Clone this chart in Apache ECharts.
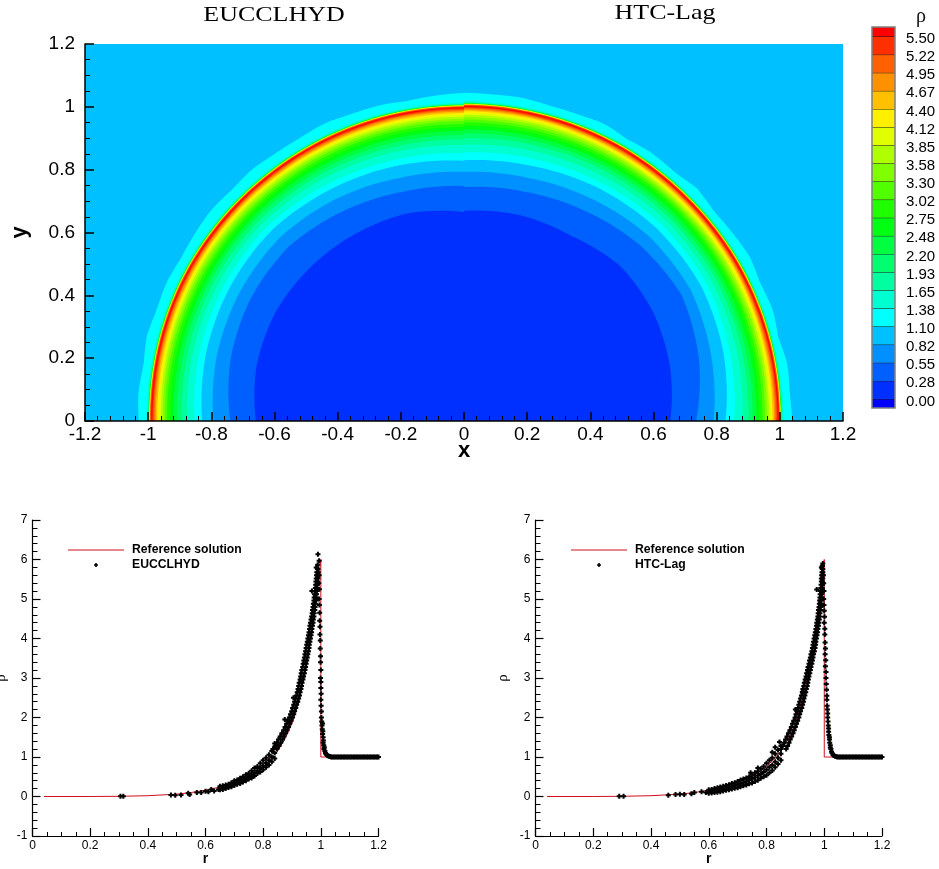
<!DOCTYPE html>
<html>
<head>
<meta charset="utf-8">
<title>rho</title>
<script src="https://cdn.jsdelivr.net/npm/echarts@6/dist/echarts.min.js"></script>
<style>
	html,body{margin:0;padding:0;background:#fff;}
	#chart{width:939px;height:869px;}
</style>
</head>
<body>
<div id="chart"></div>
<script>
// colour legend
var rhoLevels = [0,0.275,0.55,0.825,1.1,1.375,1.65,1.925,2.2,2.475,2.75,3.025,3.3,3.575,3.85,4.125,4.4,4.675,4.95,5.225,5.5];
var rhoLabels = ['0.00','0.28','0.55','0.82','1.10','1.38','1.65','1.93','2.20','2.48','2.75','3.02','3.30','3.58','3.85','4.12','4.40','4.67','4.95','5.22','5.50'];
var bandColors = ['#0000ff','#0030ff','#0060ff','#0090ff','#00c0ff','#00ffff','#00ffd0','#00ffa0','#00ff70','#00ff40','#00ff10',
	'#20ff00','#50ff00','#80ff00','#b0ff00','#e0ff00','#fff000','#ffc000','#ff9000','#ff6000','#ff3000','#ff0000'];

// contour radii on the inner side of the shock, one row per level 0.275..5.5, at 0,15,..,90 degrees from the x axis
var innerLeft = [
	[.659,.680,.690,.690,.688,.685,.665],
	[.740,.765,.780,.785,.770,.755,.748],
	[.793,.810,.820,.825,.815,.800,.793],
	[.829,.845,.855,.860,.850,.840,.828],
	[.853,.866,.874,.878,.869,.860,.853],
	[.876,.886,.893,.896,.890,.884,.878],
	[.893,.902,.908,.910,.906,.900,.896],
	[.907,.915,.920,.922,.918,.914,.910],
	[.920,.926,.930,.932,.930,.926,.924],
	[.930,.936,.940,.941,.940,.937,.935],
	[.940,.945,.948,.950,.949,.947,.945],
	[.947,.952,.956,.957,.957,.955,.954],
	[.954,.959,.963,.964,.964,.962,.962],
	[.960,.965,.969,.970,.970,.969,.969],
	[.966,.970,.974,.975,.975,.975,.975],
	[.971,.975,.979,.980,.980,.980,.980],
	[.976,.980,.983,.984,.984,.985,.985],
	[.980,.984,.987,.988,.988,.989,.989],
	[.984,.987,.990,.990,.991,.992,.992],
	[.987,.990,.993,.993,.994,.995,.995]
];
var innerRight = [
	[.653,.675,.692,.699,.680,.679,.669],
	[.735,.770,.797,.790,.771,.755,.745],
	[.790,.810,.830,.830,.815,.800,.793],
	[.828,.850,.865,.865,.855,.840,.830],
	[.855,.870,.884,.884,.874,.863,.855],
	[.881,.892,.902,.903,.895,.887,.880],
	[.900,.908,.916,.917,.912,.906,.900],
	[.913,.920,.927,.928,.924,.919,.915],
	[.925,.931,.937,.938,.935,.931,.928],
	[.935,.941,.946,.947,.945,.942,.940],
	[.945,.950,.954,.955,.954,.952,.950],
	[.953,.957,.961,.962,.962,.960,.959],
	[.960,.964,.968,.968,.969,.968,.967],
	[.966,.970,.974,.974,.975,.975,.974],
	[.972,.975,.979,.979,.980,.981,.980],
	[.977,.980,.984,.984,.985,.986,.986],
	[.982,.984,.988,.988,.989,.990,.990],
	[.986,.988,.991,.991,.993,.993,.994],
	[.990,.992,.994,.994,.996,.996,.997],
	[.993,.995,.997,.997,.999,.999,1.0]
];
// how far past the 5.5 contour the shock front reaches, levels 1.375..5.5
var outerGap = [.018,.014,.0125,.0115,.011,.0105,.01,.0095,.009,.0085,.008,.0075,.007,.006,.005,.003];
// rough edge of the 1.1 contour ahead of the shock, every 5 degrees
var frontLeft = [1.03,1.035,1.03,1.04,1.035,1.04,1.035,1.04,1.045,1.04,1.045,1.04,1.04,1.045,1.04,1.04,1.034,1.04,1.044];
var frontRight = [1.039,1.035,1.04,1.03,1.04,1.035,1.045,1.04,1.035,1.045,1.035,1.04,1.035,1.045,1.04,1.04,1.045,1.043,1.045];

// reference solution
var refRadius = [.04,.2,.3,.4,.5,.55,.6,.65,.7,.75,.8,.85,.875,.9,.925,.95,.96,.97,.98,.99,1,1,1.2];
var refDensity = [0,0,.005,.02,.06,.1,.16,.24,.35,.5,.75,1.15,1.45,1.85,2.45,3.3,3.75,4.25,4.85,5.45,6,1,1];

// undisturbed gas, rho stays at 1
var flatRadius = [1.045,1.05,1.055,1.06,1.065,1.07,1.075,1.08,1.085,1.09,1.095,1.1,1.105,1.11,1.115,1.12,1.125,1.13,1.135,1.14,1.145,1.15,1.155,1.16,1.165,1.17,1.175,1.18,1.185,1.19,1.195,1.2];

// EUCCLHYD: [r, rho low, rho mid, rho high]
var eucShallow = [
	[.65,.17,.21,.26],[.66,.18,.23,.27],[.67,.20,.25,.29],[.68,.23,.27,.31],[.69,.25,.30,.35],
	[.70,.28,.33,.40],[.71,.31,.36,.42],[.72,.33,.40,.46],[.73,.37,.43,.50],[.74,.40,.47,.55],
	[.75,.44,.51,.59],[.76,.47,.55,.65],[.77,.52,.60,.72],[.78,.58,.66,.76],[.79,.62,.72,.84],
	[.80,.68,.78,.92],[.81,.74,.85,.98],[.82,.80,.92,1.06],[.83,.88,1.00,1.15],[.84,.96,1.10,1.25]
];
// EUCCLHYD: [rho, r inner, r outer]
var eucSteep = [
	[1.20,.834,.848],[1.28,.842,.855],[1.36,.848,.861],[1.44,.853,.867],[1.52,.859,.872],[1.60,.865,.878],
	[1.68,.871,.883],[1.76,.876,.888],[1.84,.881,.892],[1.92,.886,.897],[2.00,.891,.902],[2.08,.895,.906],
	[2.16,.899,.909],[2.24,.902,.913],[2.32,.906,.916],[2.40,.909,.920],[2.48,.912,.923],[2.56,.915,.926],
	[2.64,.918,.928],[2.72,.921,.931],[2.80,.923,.933],[2.88,.925,.935],[2.96,.928,.938],[3.04,.930,.940],
	[3.12,.932,.943],[3.20,.934,.945],[3.28,.937,.947],[3.36,.939,.949],[3.44,.941,.951],[3.52,.943,.953],
	[3.60,.945,.955],[3.68,.947,.957],[3.76,.949,.959],[3.84,.951,.960],[3.92,.953,.962],[4.00,.955,.964],
	[4.08,.957,.966],[4.16,.959,.968],[4.24,.961,.969],[4.32,.962,.971],[4.40,.964,.973],[4.48,.966,.974],
	[4.56,.968,.976],[4.64,.970,.977],[4.72,.971,.979],[4.80,.973,.980],[4.88,.974,.981],[4.96,.976,.983],
	[5.04,.977,.984],[5.12,.978,.985],[5.20,.980,.986],[5.28,.981,.987],[5.36,.982,.988],[5.44,.983,.989],
	[5.52,.984,.990],[5.60,.985,.991],[5.68,.986,.991],[5.76,.988,.990]
];
// EUCCLHYD: falling side of the peak and loose points, [r, rho]
var eucFall = [
	[.994,5.6],[.993,5.4],[.995,5.25],[.994,5],[.995,4.85],[.996,4.65],[.996,4.45],[.997,4.3],[.997,4.1],[.998,3.95],
	[.998,3.75],[.999,3.55],[.999,3.4],[1,3.2],[.999,3],[1,2.9],[1,2.75],[1.001,2.6],[1,2.45],[1.001,2.3],[1.002,2.15],
	[1.002,2],[1.003,1.9],[1.004,1.8],[1.006,1.85],[1.005,1.7],[1.007,1.65],[1.006,1.58],[1.008,1.5],[1.009,1.42],
	[1.008,1.36],[1.01,1.3],[1.012,1.25],[1.011,1.2],[1.014,1.15],[1.016,1.1],[1.018,1.07],[1.021,1.05],[1.024,1.03],
	[1.028,1.02],[1.032,1.01],[1.036,1],[1.04,1]
];
var eucStray = [
	[.305,.005],[.315,.005],[.48,.04],[.495,.03],[.515,.04],[.54,.08],[.545,.05],[.57,.1],[.585,.1],[.6,.13],[.61,.12],
	[.62,.18],[.63,.14],[.645,.18],[.969,5.2],[.99,6.13],[.994,5.97],[.989,5.87],[.984,5.8],[.84,1.34],[.875,1.95],[.905,2.5]
];

// HTC-Lag: [r, rho low, rho mid, rho high]
var htcShallow = [
	[.60,.08,.12,.17],[.61,.09,.14,.18],[.62,.10,.15,.20],[.63,.11,.16,.22],[.64,.12,.18,.24],[.65,.14,.19,.26],
	[.66,.16,.21,.28],[.67,.17,.24,.30],[.68,.19,.25,.33],[.69,.21,.28,.35],[.70,.22,.30,.38],[.71,.25,.32,.42],
	[.72,.27,.35,.44],[.73,.29,.38,.47],[.74,.32,.41,.50],[.75,.34,.45,.55],[.76,.38,.48,.60],[.77,.41,.53,.64],
	[.78,.46,.57,.70],[.79,.50,.62,.76],[.80,.54,.68,.84],[.81,.60,.74,.92],[.82,.66,.80,.98],[.83,.74,.88,1.08],
	[.84,.82,.98,1.18],[.85,.92,1.08,1.28]
];
// HTC-Lag: [rho, r inner, r outer]
var htcSteep = [
	[1.20,.850,.868],[1.28,.856,.873],[1.36,.861,.878],[1.44,.866,.882],[1.52,.871,.887],[1.60,.876,.892],
	[1.68,.881,.896],[1.76,.886,.900],[1.84,.890,.904],[1.92,.894,.908],[2.00,.899,.912],[2.08,.902,.915],
	[2.16,.906,.918],[2.24,.909,.922],[2.32,.912,.925],[2.40,.915,.928],[2.48,.918,.930],[2.56,.921,.933],
	[2.64,.924,.936],[2.72,.926,.938],[2.80,.929,.941],[2.88,.931,.943],[2.96,.934,.945],[3.04,.937,.947],
	[3.12,.939,.950],[3.20,.942,.952],[3.28,.944,.954],[3.36,.947,.957],[3.44,.949,.959],[3.52,.952,.961],
	[3.60,.954,.963],[3.68,.957,.966],[3.76,.959,.968],[3.84,.961,.970],[3.92,.963,.971],[4.00,.965,.973],
	[4.08,.967,.975],[4.16,.969,.977],[4.24,.971,.978],[4.32,.973,.980],[4.40,.974,.981],[4.48,.976,.983],
	[4.56,.978,.984],[4.64,.979,.985],[4.72,.980,.987],[4.80,.982,.988],[4.88,.983,.989],[4.96,.984,.990],
	[5.04,.985,.991],[5.12,.986,.991],[5.20,.987,.992],[5.28,.988,.993],[5.36,.989,.994],[5.44,.990,.994],
	[5.52,.990,.995],[5.60,.991,.995],[5.68,.992,.995],[5.76,.993,.995],[5.84,.993,.994]
];
// HTC-Lag: falling side of the peak and loose points, [r, rho]
var htcFall = [
	[.997,5.6],[.998,5.4],[.999,5.2],[.998,5],[.999,4.85],[1,4.7],[1.001,4.55],[1,4.4],[1.002,4.25],[1.002,4.1],[1.003,3.9],
	[1.004,3.75],[1.003,3.6],[1.005,3.45],[1.004,3.3],[1.006,3.15],[1.006,3],[1.007,2.85],[1.008,2.7],[1.009,2.55],
	[1.009,2.45],[1.01,2.3],[1.011,2.2],[1.012,2.1],[1.012,2],[1.013,1.9],[1.014,1.8],[1.015,1.72],[1.015,1.64],[1.016,1.56],
	[1.018,1.5],[1.018,1.44],[1.019,1.36],[1.021,1.3],[1.021,1.24],[1.023,1.2],[1.025,1.14],[1.027,1.1],[1.03,1.06],
	[1.033,1.04],[1.037,1.02],[1.042,1.01]
];
var htcStray = [
	[.29,.005],[.305,.005],[.46,.03],[.485,.05],[.5,.06],[.515,.05],[.54,.07],[.55,.1],[.575,.12],[.59,.1],
	[.974,5.24],[.83,1.25],[.845,1.38],[.82,1.12],[.77,.72],[.745,.6],[.90,2.2],[.925,2.65],[.945,3.15],[.995,5.9],[.99,5.8]
];

function scatterPoints(shallow, steep, fall, stray){
	var pts = [];
	shallow.forEach(function(row){
		pts.push([row[0],row[1]],[row[0],row[2]],[row[0],row[3]]);
	});
	steep.forEach(function(row){
		pts.push([row[1],row[0]],[row[2],row[0]]);
	});
	flatRadius.forEach(function(r){ pts.push([r,1]); });
	return pts.concat(fall, stray);
}

function radiusAt(list, deg){
	var pos = deg/90*(list.length-1);
	var i = Math.min(Math.floor(pos), list.length-2);
	return list[i]+(list[i+1]-list[i])*(pos-i);
}

// nested half discs, biggest first, each painted with the band just inside it
var contours = [];
[[-1,innerLeft,frontLeft],[1,innerRight,frontRight]].forEach(function(side){
	var top = side[1][19];
	contours.push({sign:side[0], radii:side[2], color:bandColors[5]});
	outerGap.forEach(function(gap,i){
		contours.push({sign:side[0], radii:top.map(function(r){return r+gap;}), color:bandColors[i+6]});
	});
	for(var i=20;i>=1;i--){
		contours.push({sign:side[0], radii:side[1][i-1], color:bandColors[i]});
	}
});

function renderContour(params, api){
	var c = contours[params.dataIndex];
	var pts = [api.coord([0,0])];
	for(var d=0;d<=90;d+=1.5){
		var r = radiusAt(c.radii,d), a = d*Math.PI/180;
		pts.push(api.coord([c.sign*r*Math.cos(a), r*Math.sin(a)]));
	}
	return {type:'polygon', shape:{points:pts}, style:{fill:c.color}};
}

function renderBar(params, api){
	var j = params.dataIndex;
	var low = j==0 ? -0.1375 : rhoLevels[j-1];
	var high = j==bandColors.length-1 ? 5.644 : rhoLevels[j];
	var a = api.coord([0,low]), b = api.coord([1,high]);
	var kids = [{type:'rect', shape:{x:a[0],y:b[1],width:b[0]-a[0],height:a[1]-b[1]}, style:{fill:bandColors[j]}}];
	if(j<rhoLevels.length){
		var p = api.coord([1,rhoLevels[j]]);
		kids.push({type:'line', shape:{x1:a[0],y1:p[1],x2:b[0],y2:p[1]}, style:{stroke:'#1a1a1a',lineWidth:1}});
		kids.push({type:'text', x:b[0]+11, y:p[1]+2.5, style:{text:rhoLabels[j], fill:'#000', font:'15px "Liberation Sans"', textAlign:'left', textVerticalAlign:'middle'}});
	}
	return {type:'group', children:kids};
}

function renderBarFrame(params, api){
	var a = api.coord([0,-0.1375]), b = api.coord([1,5.644]);
	return {type:'rect', shape:{x:a[0],y:b[1],width:b[0]-a[0],height:a[1]-b[1]}, style:{fill:null,stroke:'#7f7f7f',lineWidth:1.5}};
}

function plainAxis(min,max,interval,minor,name,gap,nameFont,labelSize,labelMargin,major,small,width){
	return {
		type:'value', min:min, max:max, interval:interval, z:10,
		name:name, nameLocation:'middle', nameGap:gap, nameTextStyle:nameFont, nameMoveOverlap:false,
		splitLine:{show:false},
		axisLine:{show:true,onZero:false,lineStyle:{color:'#000',width:width}},
		axisTick:{show:true,inside:true,length:major,lineStyle:{color:'#000',width:width}},
		minorTick:{show:true,splitNumber:minor,length:small,lineStyle:{color:'#000',width:1}},
		axisLabel:{color:'#000',fontFamily:'Liberation Sans',fontSize:labelSize,margin:labelMargin,hideOverlap:false}
	};
}
var boldName = {fontFamily:'Liberation Sans',fontWeight:'bold',color:'#000',fontSize:22};
var rName = {fontFamily:'Liberation Sans',fontWeight:'bold',color:'#000',fontSize:14};
var rhoName = {fontFamily:'Liberation Serif',color:'#000',fontSize:15};
var plusMark = 'path://M1.5 0h2v1.5h1.5v2h-1.5v1.5h-2v-1.5h-1.5v-2h1.5z';
var legendLine = 'path://M0 0H56V1H0Z';
var legendFont = {fontFamily:'Liberation Sans',fontWeight:'bold',fontSize:12.2,color:'#000',padding:[0,0,0,3]};

var chart = echarts.init(document.getElementById('chart'), null, {renderer:'canvas'});
var option = {
	backgroundColor:'#fff',
	animation:false,
	grid:[
		{left:85,top:44,width:758,height:377,show:true,backgroundColor:bandColors[4],borderWidth:0,outerBoundsMode:'none'},
		{left:872,top:27,width:23,height:381,outerBoundsMode:'none'},
		{left:32.5,top:520,width:346,height:316,outerBoundsMode:'none'},
		{left:535.5,top:520,width:346.5,height:316,outerBoundsMode:'none'}
	],
	xAxis:[
		plainAxis(-1.2,1.2,.2,5,'x',19,boldName,19,4,9,5,1.5),
		{gridIndex:1,type:'value',min:0,max:1,show:false},
		Object.assign(plainAxis(0,1.2,.2,4,'r',16,rName,12,4,8,4,1.2),{gridIndex:2}),
		Object.assign(plainAxis(0,1.2,.2,4,'r',16,rName,12,4,8,4,1.2),{gridIndex:3})
	],
	yAxis:[
		plainAxis(0,1.2,.2,4,'y',54,boldName,19,10,9,5,1.5),
		{gridIndex:1,type:'value',min:-0.1375,max:5.644,show:false},
		Object.assign(plainAxis(-1,7,1,5,'ρ',24,rhoName,12,5,8,5,1.2),{gridIndex:2}),
		Object.assign(plainAxis(-1,7,1,5,'ρ',25,rhoName,12,5,8,5,1.2),{gridIndex:3})
	],
	legend:[
		{left:68,top:544,orient:'vertical',padding:0,itemWidth:56,itemHeight:4,itemGap:3,symbolKeepAspect:true,
			data:[{name:'Reference solution',icon:legendLine},{name:'EUCCLHYD',icon:plusMark}],selectedMode:false,
			textStyle:legendFont},
		{left:571,top:544,orient:'vertical',padding:0,itemWidth:56,itemHeight:4,itemGap:3,symbolKeepAspect:true,
			data:[{name:'Reference solution',icon:legendLine},{name:'HTC-Lag',icon:plusMark}],selectedMode:false,
			textStyle:legendFont}
	],
	graphic:[
		{type:'text',x:274,y:15,scaleX:1.18,silent:true,style:{text:'EUCCLHYD',fill:'#000',font:'22px "Liberation Serif"',textAlign:'center',textVerticalAlign:'middle'}},
		{type:'text',x:665,y:13,scaleX:1.18,silent:true,style:{text:'HTC-Lag',fill:'#000',font:'22px "Liberation Serif"',textAlign:'center',textVerticalAlign:'middle'}},
		{type:'text',x:921,y:17,silent:true,style:{text:'ρ',fill:'#111',font:'20px "Liberation Serif"',textAlign:'center',textVerticalAlign:'middle'}}
	],
	series:[
		{type:'custom',coordinateSystem:'cartesian2d',xAxisIndex:0,yAxisIndex:0,silent:true,renderItem:renderContour,
			data:contours.map(function(c,i){return [i];})},
		{type:'custom',coordinateSystem:'cartesian2d',xAxisIndex:1,yAxisIndex:1,silent:true,renderItem:renderBar,
			data:bandColors.map(function(c,i){return [i];})},
		{type:'custom',coordinateSystem:'cartesian2d',xAxisIndex:1,yAxisIndex:1,silent:true,z:3,renderItem:renderBarFrame,data:[[0]]},
		{name:'Reference solution',type:'line',xAxisIndex:2,yAxisIndex:2,symbol:'none',silent:true,z:2,
			lineStyle:{color:'#d01020',width:1},itemStyle:{color:'#d01020'},
			data:refRadius.map(function(r,i){return [r,refDensity[i]];})},
		{name:'EUCCLHYD',type:'scatter',xAxisIndex:2,yAxisIndex:2,symbol:plusMark,symbolSize:5,silent:true,z:3,
			itemStyle:{color:'#000',opacity:1},
			data:scatterPoints(eucShallow,eucSteep,eucFall,eucStray)},
		{name:'Reference solution',type:'line',xAxisIndex:3,yAxisIndex:3,symbol:'none',silent:true,z:2,
			lineStyle:{color:'#d01020',width:1},itemStyle:{color:'#d01020'},
			data:refRadius.map(function(r,i){return [r,refDensity[i]];})},
		{name:'HTC-Lag',type:'scatter',xAxisIndex:3,yAxisIndex:3,symbol:plusMark,symbolSize:5,silent:true,z:3,
			itemStyle:{color:'#000',opacity:1},
			data:scatterPoints(htcShallow,htcSteep,htcFall,htcStray)}
	]
};
chart.setOption(option);
</script>
</body>
</html>
